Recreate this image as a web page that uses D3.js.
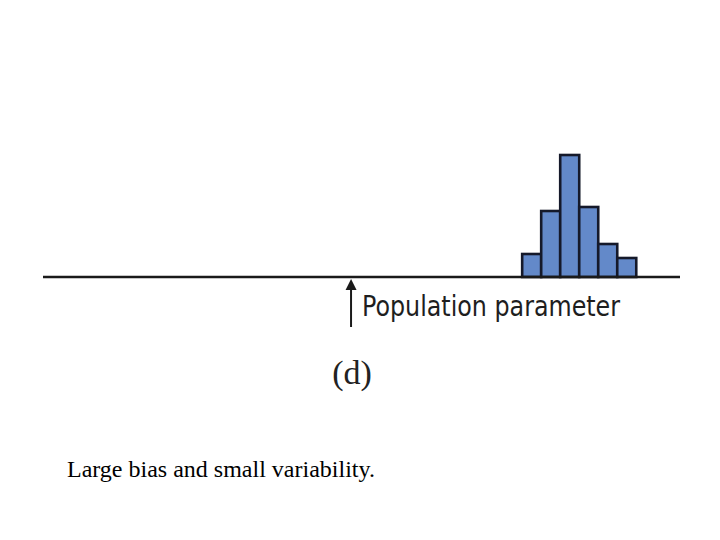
<!DOCTYPE html>
<html><head><meta charset="utf-8">
<script src="https://cdn.jsdelivr.net/npm/d3@7.9.0/dist/d3.min.js"></script>
<style>body{margin:0;background:#fff}svg{display:block}</style>
</head><body><svg width="720" height="540"></svg>
<script>
// sampling distribution bins (statistic value, bin starts) and counts
const binStarts=[9,10,11,12,13,14];
const counts=[23,66,122,70,33,19];
const param=0;
const axisDomain=[-16.2,17.3];
const labels={param:"Population parameter",panel:"(d)",caption:"Large bias and small variability."};

const svg=d3.select('svg');
const x=d3.scaleLinear().domain(axisDomain).range([43,680]);
const y=d3.scaleLinear().domain([0,122]).range([277,155]);

svg.selectAll('rect').data(counts).enter().append('rect')
 .attr('x',(d,i)=>x(binStarts[i])).attr('width',(d,i)=>x(binStarts[i]+1)-x(binStarts[i]))
 .attr('y',d=>y(d)).attr('height',d=>y(0)-y(d))
 .attr('fill','#6389c9').attr('stroke','#15192a').attr('stroke-width',2.6);

svg.append('line').attr('x1',x(axisDomain[0])).attr('x2',x(axisDomain[1]))
 .attr('y1',y(0)).attr('y2',y(0)).attr('stroke','#1a1a1a').attr('stroke-width',2.6);

// arrow pointing at the parameter
const px=x(param);
svg.append('line').attr('x1',px).attr('x2',px).attr('y1',288).attr('y2',327)
 .attr('stroke','#1a1a1a').attr('stroke-width',2);
svg.append('path').attr('d',`M${px-5.5},290L${px},279L${px+5.5},290Z`).attr('fill','#1a1a1a');

svg.append('text').attr('x',px+11).attr('y',316).text(labels.param)
 .attr('font-family','"Liberation Sans Narrow","DejaVu Sans Condensed",sans-serif')
 .attr('font-size',29).attr('fill','#1e1e1e').attr('textLength',258).attr('lengthAdjust','spacingAndGlyphs');

svg.append('text').attr('x',px+1).attr('y',384).attr('text-anchor','middle').text(labels.panel)
 .attr('font-family','"Liberation Serif",serif').attr('font-size',34).attr('fill','#222');

svg.append('text').attr('x',67).attr('y',477).text(labels.caption)
 .attr('font-family','"Liberation Serif","Times New Roman",serif').attr('font-size',24).attr('fill','#000');
</script></body></html>
